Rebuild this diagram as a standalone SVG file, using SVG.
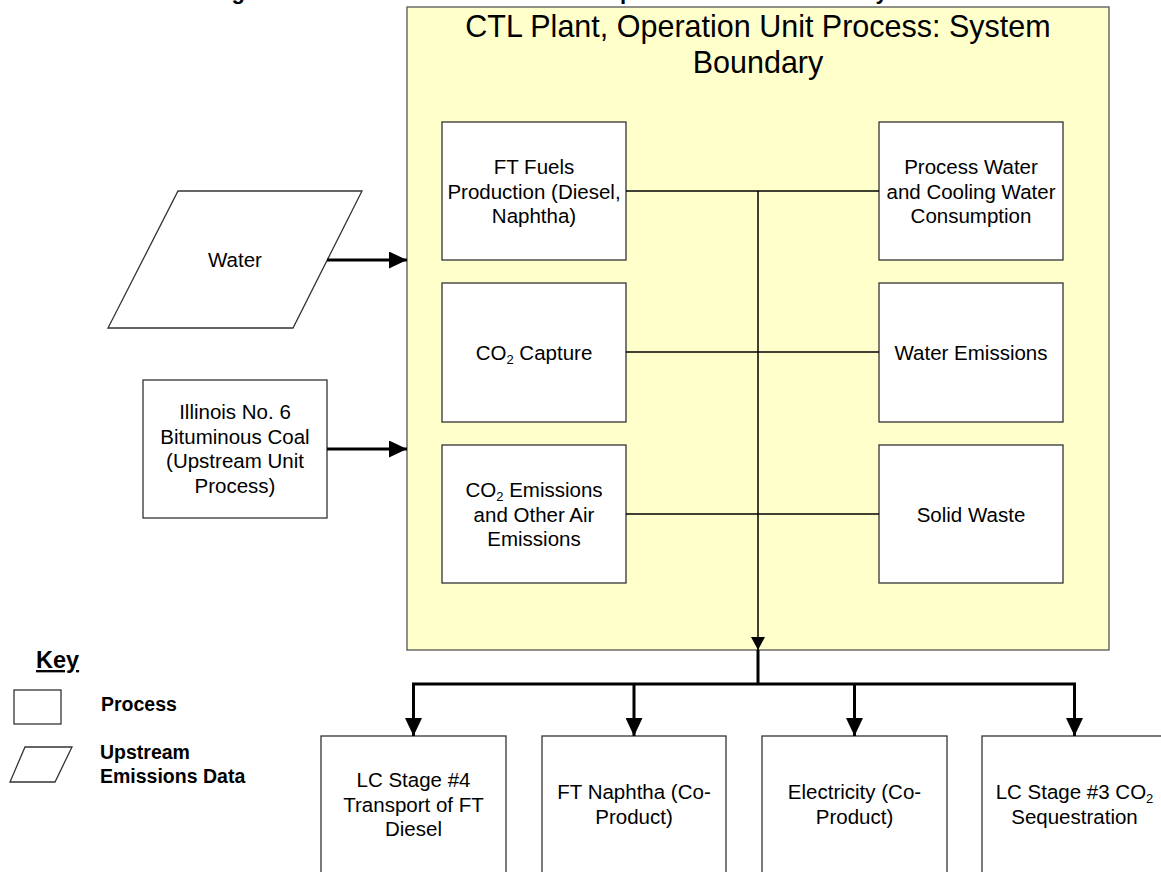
<svg xmlns="http://www.w3.org/2000/svg" width="1161" height="872" viewBox="0 0 1161 872">
<style>
  text { font-family: "Liberation Sans", Arial, sans-serif; fill: #000; }
  .t { font-size: 20.5px; text-anchor: middle; }
  .title { font-size: 30.5px; text-anchor: middle; }
  .fig { font-size: 22px; font-weight: bold; }
  .key { font-weight: bold; }
  .box { fill: #fff; stroke: #333; stroke-width: 1.3; }
  .thin { stroke: #000; stroke-width: 1.5; fill: none; }
  .thick { stroke: #000; stroke-width: 3; fill: none; }
  .sub { font-size: 13px; }
</style>
<defs>
  <marker id="big" markerUnits="userSpaceOnUse" markerWidth="18" markerHeight="17" refX="18" refY="8.5" orient="auto" viewBox="0 0 18 17">
    <path d="M0,0 L18,8.5 L0,17 z" fill="#000"/>
  </marker>
  <marker id="small" markerUnits="userSpaceOnUse" markerWidth="13" markerHeight="14" refX="13" refY="7" orient="auto" viewBox="0 0 13 14">
    <path d="M0,0 L13,7 L0,14 z" fill="#000"/>
  </marker>
</defs>

<text class="fig" y="-1.5"><tspan x="212">Figure</tspan><tspan x="603">Operation Unit Process: System</tspan></text>

<g id="boundary">
  <rect x="407" y="7" width="702" height="643" fill="#FFFFCC" stroke="#555" stroke-width="1.3"/>
  <text class="title" x="758" y="37">CTL Plant, Operation Unit Process: System</text>
  <text class="title" x="758" y="73">Boundary</text>
</g>

<g id="ft-fuels">
  <rect class="box" x="442" y="122" width="184" height="138"/>
  <text class="t" x="534" y="174">FT Fuels</text>
  <text class="t" x="534" y="198.5">Production (Diesel,</text>
  <text class="t" x="534" y="223">Naphtha)</text>
</g>
<g id="co2-capture">
  <rect class="box" x="442" y="283" width="184" height="139"/>
  <text class="t" x="534" y="359.5">CO<tspan class="sub" dy="4">2</tspan><tspan dy="-4"> Capture</tspan></text>
</g>
<g id="co2-emissions">
  <rect class="box" x="442" y="445" width="184" height="138"/>
  <text class="t" x="534" y="497">CO<tspan class="sub" dy="4">2</tspan><tspan dy="-4"> Emissions</tspan></text>
  <text class="t" x="534" y="521.5">and Other Air</text>
  <text class="t" x="534" y="546">Emissions</text>
</g>
<g id="process-water">
  <rect class="box" x="879" y="122" width="184" height="138"/>
  <text class="t" x="971" y="174">Process Water</text>
  <text class="t" x="971" y="198.5">and Cooling Water</text>
  <text class="t" x="971" y="223">Consumption</text>
</g>
<g id="water-emissions">
  <rect class="box" x="879" y="283" width="184" height="139"/>
  <text class="t" x="971" y="359.5">Water Emissions</text>
</g>
<g id="solid-waste">
  <rect class="box" x="879" y="445" width="184" height="138"/>
  <text class="t" x="971" y="521.5">Solid Waste</text>
</g>

<g id="water">
  <polygon points="178,191 362,191 293,328 108,328" fill="#fff" stroke="#333" stroke-width="1.3"/>
  <text class="t" x="235" y="267">Water</text>
</g>
<g id="coal">
  <rect class="box" x="143" y="380" width="184" height="138"/>
  <text class="t" x="235" y="419">Illinois No. 6</text>
  <text class="t" x="235" y="443.5">Bituminous Coal</text>
  <text class="t" x="235" y="468">(Upstream Unit</text>
  <text class="t" x="235" y="492.5">Process)</text>
</g>

<g id="lc4">
  <rect class="box" x="321" y="736" width="185" height="138"/>
  <text class="t" x="413.5" y="787">LC Stage #4</text>
  <text class="t" x="413.5" y="811.5">Transport of FT</text>
  <text class="t" x="413.5" y="836">Diesel</text>
</g>
<g id="naphtha">
  <rect class="box" x="542" y="736" width="184" height="138"/>
  <text class="t" x="634" y="799">FT Naphtha (Co-</text>
  <text class="t" x="634" y="823.5">Product)</text>
</g>
<g id="electricity">
  <rect class="box" x="762" y="736" width="185" height="138"/>
  <text class="t" x="854.5" y="799">Electricity (Co-</text>
  <text class="t" x="854.5" y="823.5">Product)</text>
</g>
<g id="lc3">
  <rect class="box" x="982" y="736" width="185" height="138"/>
  <text class="t" x="1074.5" y="799">LC Stage #3 CO<tspan class="sub" dy="4">2</tspan></text>
  <text class="t" x="1074.5" y="823.5">Sequestration</text>
</g>

<g id="connectors">
  <line class="thin" x1="626" y1="191" x2="879" y2="191"/>
  <line class="thin" x1="626" y1="352" x2="879" y2="352"/>
  <line class="thin" x1="626" y1="514" x2="879" y2="514"/>
  <line class="thin" x1="758" y1="191" x2="758" y2="650" marker-end="url(#small)"/>
  <line class="thick" x1="327" y1="260" x2="407" y2="260" marker-end="url(#big)"/>
  <line class="thick" x1="327" y1="449" x2="407" y2="449" marker-end="url(#big)"/>
  <line class="thick" x1="758" y1="650" x2="758" y2="684"/>
  <line class="thick" x1="412" y1="684" x2="1076" y2="684"/>
  <line class="thick" x1="413.5" y1="683" x2="413.5" y2="736" marker-end="url(#big)"/>
  <line class="thick" x1="634" y1="683" x2="634" y2="736" marker-end="url(#big)"/>
  <line class="thick" x1="854.5" y1="683" x2="854.5" y2="736" marker-end="url(#big)"/>
  <line class="thick" x1="1074.5" y1="683" x2="1074.5" y2="736" marker-end="url(#big)"/>
</g>

<g id="key">
  <text class="key" x="36" y="668" font-size="23.5" text-decoration="underline">Key</text>
  <rect class="box" x="14" y="690" width="47" height="34"/>
  <text class="key" x="101" y="711" font-size="19.5">Process</text>
  <polygon points="25,747 72,747 55,782 10,782" fill="#fff" stroke="#333" stroke-width="1.3"/>
  <text class="key" x="100" y="759" font-size="19.5">Upstream</text>
  <text class="key" x="100" y="783" font-size="19.5">Emissions Data</text>
</g>
</svg>
